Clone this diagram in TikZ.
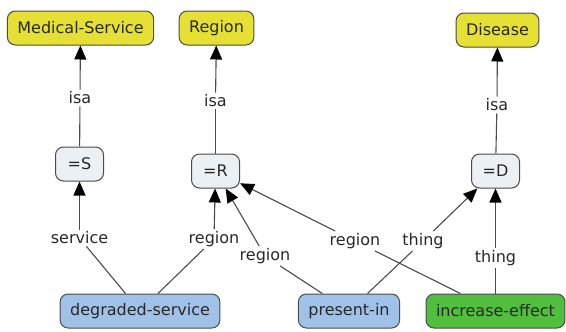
\documentclass[tikz,border=0pt]{standalone}
\usepackage{fontspec}
\setmainfont{DejaVu Sans}
\usetikzlibrary{arrows.meta}
\definecolor{cyellow}{RGB}{230,224,52}
\definecolor{cvar}{RGB}{234,240,243}
\definecolor{cblue}{RGB}{160,194,232}
\definecolor{cgreen}{RGB}{82,190,62}
\definecolor{cline}{RGB}{75,75,75}
\definecolor{ctext}{RGB}{40,40,40}

\begin{document}
\begin{tikzpicture}[x=1pt,y=-1pt,>={Triangle[length=14pt,width=12pt,color=black]},
    font=\fontsize{16}{19}\selectfont,text=ctext]
  \tikzstyle{concept}=[draw=cline,line width=1pt,rounded corners=8pt,minimum height=34pt,inner xsep=10pt]
  \tikzstyle{var}=[concept,fill=cvar,minimum width=48pt]
  \tikzstyle{phrase}=[inner sep=2pt]
  \tikzstyle{link}=[cline,line width=1.1pt]
  \useasboundingbox (0,0) rectangle (566,332);

  \node[concept,fill=cyellow] (MS) at (80.5,28)  {Medical-Service};
  \node[concept,fill=cyellow] (RG) at (216.5,28) {Region};
  \node[concept,fill=cyellow] (DI) at (497.5,30) {Disease};

  \node[var] (S) at (79.5,164)  {=S};
  \node[var] (R) at (215.5,171) {=R};
  \node[var] (D) at (495.5,171) {=D};

  \node[concept,fill=cblue]  (DS) at (140,311) {degraded-service};
  \node[concept,fill=cblue]  (PI) at (349,311) {present-in};
  \node[concept,fill=cgreen] (IE) at (495.5,311) {increase-effect};

  \node[phrase] (isaS) at (80,98)  {isa};
  \node[phrase] (isaR) at (215.5,101) {isa};
  \node[phrase] (isaD) at (497,105) {isa};
  \node[phrase] (service) at (79.5,238) {service};
  \node[phrase] (regionA) at (214,239) {region};
  \node[phrase] (regionB) at (265,256) {region};
  \node[phrase] (regionC) at (355,241) {region};
  \node[phrase] (thingA) at (423,241) {thing};
  \node[phrase] (thingB) at (495.5,258) {thing};

  \draw[link] (S) -- (isaS);
  \draw[link,->] (isaS) -- (MS);
  \draw[link] (R) -- (isaR);
  \draw[link,->] (isaR) -- (RG);
  \draw[link] (D) -- (isaD);
  \draw[link,->] (isaD) -- (DI);

  \draw[link] (DS) -- (service);
  \draw[link,->] (service) -- (S);
  \draw[link] (DS) -- (regionA);
  \draw[link,->] (regionA) -- (R);
  \draw[link] (PI) -- (regionB);
  \draw[link,->] (regionB) -- (R);
  \draw[link] (IE) -- (regionC);
  \draw[link,->] (regionC) -- (R);
  \draw[link] (PI) -- (thingA);
  \draw[link,->] (thingA) -- (D);
  \draw[link] (IE) -- (thingB);
  \draw[link,->] (thingB) -- (D);
\end{tikzpicture}
\end{document}
